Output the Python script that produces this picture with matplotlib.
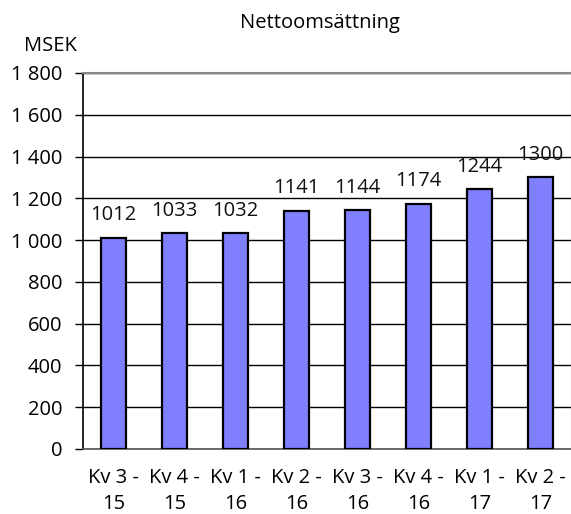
import matplotlib.pyplot as plt
from matplotlib.ticker import FuncFormatter

# data
quarters = ['Kv 3 -\n15', 'Kv 4 -\n15', 'Kv 1 -\n16', 'Kv 2 -\n16',
            'Kv 3 -\n16', 'Kv 4 -\n16', 'Kv 1 -\n17', 'Kv 2 -\n17']
sales = [1012, 1033, 1032, 1141, 1144, 1174, 1244, 1300]
y_ticks = [0, 200, 400, 600, 800, 1000, 1200, 1400, 1600, 1800]

plt.rcParams['font.family'] = ['Open Sans', 'DejaVu Sans']
fs = 14.5

fig = plt.figure(figsize=(5.71, 5.14), dpi=100)
ax = fig.add_axes([0.1454, 0.1265, 0.8546, 0.7315])

x = range(len(quarters))
bars = ax.bar(x, sales, width=0.41, color='#8080FF', edgecolor='black',
              linewidth=1.6, zorder=3)

for xi, v in zip(x, sales):
    ax.annotate(str(v), (xi, v), xytext=(0, 9), textcoords='offset points',
                ha='center', va='bottom', fontsize=fs, color='#111111')

ax.set_xlim(-0.5, len(quarters) - 0.5)
ax.set_ylim(0, 1800)
ax.set_yticks(y_ticks)
ax.yaxis.set_major_formatter(
    FuncFormatter(lambda v, p: '{:,}'.format(int(v)).replace(',', ' ')))
ax.set_xticks(list(x))
ax.set_xticklabels(quarters, fontsize=fs, linespacing=1.4)
ax.tick_params(axis='x', length=0, pad=14)
ax.tick_params(axis='y', length=6, width=1, pad=9, labelsize=fs)
ax.yaxis.grid(True, color='black', linewidth=1, zorder=0)

ax.spines['left'].set_color('black')
ax.spines['left'].set_linewidth(1.2)
ax.spines['bottom'].set_color('#555555')
ax.spines['bottom'].set_linewidth(1.2)
ax.spines['top'].set_color('#888888')
ax.spines['top'].set_linewidth(1.5)
ax.spines['right'].set_color('#aaaaaa')

fig.text(0.56, 0.955, 'Nettoomsättning', ha='center', va='center', fontsize=fs)
fig.text(0.088, 0.910, 'MSEK', ha='center', va='center', fontsize=fs)

fig.savefig('out.png', dpi=100)
